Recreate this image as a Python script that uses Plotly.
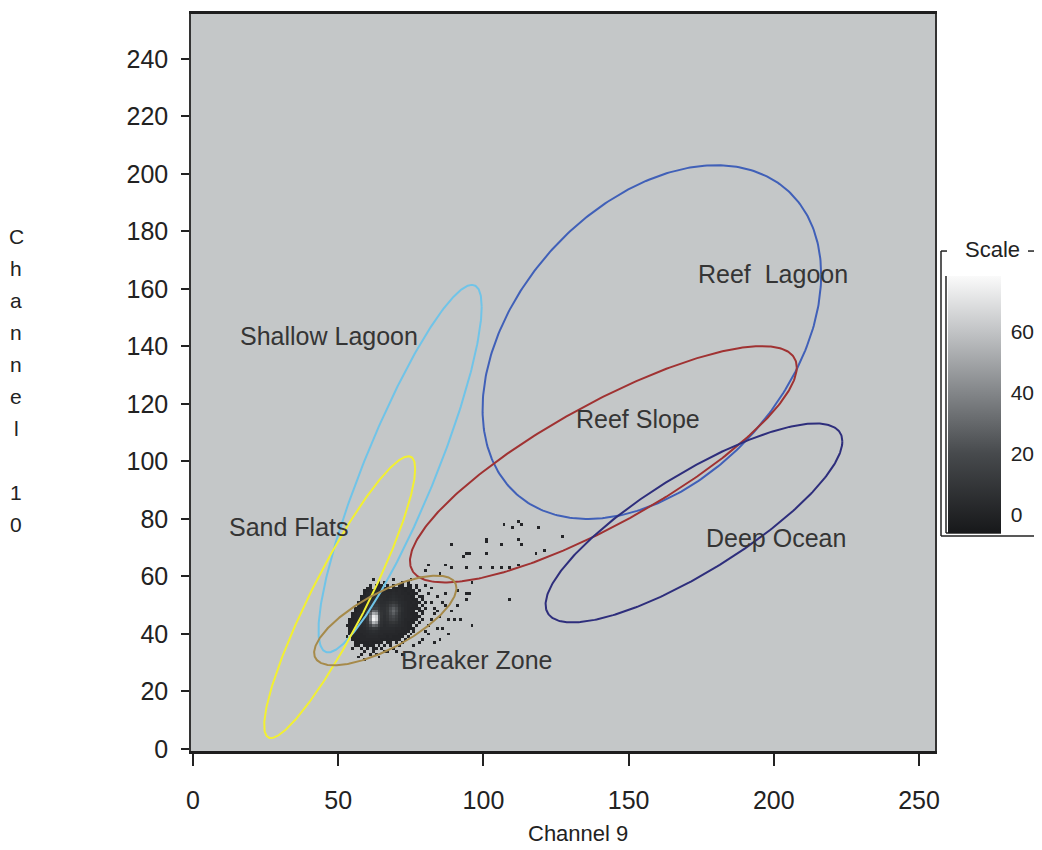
import numpy as np
import plotly.graph_objects as go

# ---------------- data ----------------
region_names = ["Reef\u00a0 Lagoon", "Shallow Lagoon", "Reef Slope", "Sand Flats", "Deep Ocean", "Breaker Zone"]
center_x = [158.0, 71.3, 141.3, 50.5, 172.5, 66.2]
center_y = [141.5, 97.5, 99.0, 52.8, 78.6, 44.7]
spread_x = [58.3, 28.1, 66.6, 26.0, 51.1, 24.5]
spread_y = [61.5, 63.9, 41.1, 49.0, 34.6, 15.6]
correlation = [0.38, 0.88, 0.82, 0.91, 0.82, 0.72]
label_x = [199.7, 46.8, 153.2, 33.1, 200.8, 97.5]
label_y = [165.2, 143.7, 114.6, 77.2, 73.4, 30.8]
region_colors = ["#4060b8", "#70c4e8", "#a03232", "#f2f032", "#2e2e7c", "#a68a4a"]

x_ticks = [0, 50, 100, 150, 200, 250]
y_ticks = list(range(0, 241, 20))
scale_ticks = [0, 20, 40, 60]

# pixel counts of the dense cluster (columns x = 52..81, rows y = 58 down to 33)
grid_x_start = 52
grid_y_start = 58
density_rows = [
    [0,0,0,0,0,0,0,0,0,0,0,0,1,0,1,0,0,0,0,0,1,0,1,0,0,0,0,0,0,0],
    [0,0,0,0,0,0,0,0,0,1,0,1,2,1,0,1,0,1,0,1,1,0,1,1,0,0,0,0,0,0],
    [0,0,0,0,0,0,0,0,1,2,0,2,3,2,2,1,0,2,1,2,1,1,2,1,0,1,0,0,0,0],
    [0,0,0,0,0,0,0,1,2,3,3,3,4,3,3,2,2,3,2,3,2,1,2,1,1,0,1,0,0,0],
    [0,0,0,0,0,0,0,1,3,4,4,5,4,4,3,3,3,4,3,3,2,2,1,2,1,1,0,0,0,0],
    [0,0,0,0,0,0,1,2,3,5,5,6,5,4,4,3,4,5,4,3,3,2,2,1,1,0,1,1,0,0],
    [0,0,0,0,0,0,1,2,4,5,6,7,6,5,4,4,5,6,5,4,3,2,2,2,1,1,0,1,0,0],
    [0,0,0,0,0,1,2,3,4,6,8,9,7,5,5,6,8,10,8,5,4,3,2,1,2,1,1,0,1,0],
    [0,0,0,0,0,1,2,4,5,8,11,12,9,6,6,8,14,18,14,7,4,3,2,2,1,1,0,1,0,0],
    [0,0,0,0,1,2,3,4,6,10,16,16,11,7,7,10,20,26,20,9,5,3,2,1,1,1,1,0,1,0],
    [0,0,0,0,1,2,3,5,8,16,30,28,14,8,7,11,22,30,22,10,5,3,2,2,1,0,1,1,0,0],
    [0,0,0,1,2,3,4,5,10,28,52,46,20,9,7,10,20,26,18,8,4,3,2,1,1,1,0,1,0,0],
    [0,0,0,1,2,3,4,6,12,38,72,64,24,9,6,9,16,20,14,7,4,3,2,2,1,1,1,0,0,0],
    [0,0,1,1,2,3,5,6,12,40,76,66,24,8,6,8,14,16,12,6,4,2,2,1,1,1,0,1,0,0],
    [0,0,1,2,2,3,4,6,10,30,56,48,18,7,5,6,9,10,8,5,3,2,1,2,1,0,1,0,0,0],
    [0,0,1,1,2,3,4,5,8,18,30,26,12,6,4,5,6,6,5,4,3,2,1,1,0,1,0,0,0,0],
    [0,0,1,2,2,3,3,4,6,9,12,11,7,4,4,4,4,4,3,3,2,2,1,1,1,0,0,0,0,0],
    [0,0,1,1,2,2,3,3,4,5,6,5,4,3,3,3,3,3,2,2,2,1,1,0,1,0,0,0,0,0],
    [0,0,1,1,2,2,2,3,3,4,4,4,3,3,2,2,2,2,2,1,1,1,0,1,0,0,0,0,0,0],
    [0,0,0,1,1,2,2,2,3,3,3,3,2,2,2,1,2,1,1,1,1,0,1,0,0,0,0,0,0,0],
    [0,0,0,1,1,1,2,2,2,2,2,2,2,1,1,1,1,1,1,1,0,1,0,0,0,0,0,0,0,0],
    [0,0,0,0,1,1,1,1,1,2,1,1,1,1,0,1,1,0,1,0,1,0,0,0,0,0,0,0,0,0],
    [0,0,0,0,1,1,0,1,1,1,1,0,1,0,1,0,1,0,0,1,0,0,0,0,0,0,0,0,0,0],
    [0,0,0,0,0,0,1,0,1,0,1,1,0,1,0,0,0,1,0,0,0,0,0,0,0,0,0,0,0,0],
    [0,0,0,0,0,0,0,1,0,0,1,0,0,0,1,1,0,0,0,0,0,0,0,0,0,0,0,0,0,0],
    [0,0,0,0,0,0,1,0,0,1,0,1,0,0,0,0,0,0,0,0,0,0,0,0,0,0,0,0,0,0],
]

# isolated single pixels
outlier_x = [107, 112, 113, 110, 101, 101, 106, 112, 119, 127, 89, 94, 101, 121, 118, 87, 93, 95,
             106, 109, 112, 103, 99, 96, 91, 94, 94, 109, 96, 92, 83, 94, 80, 81, 89, 85, 113,
             81, 83, 84, 87, 88, 90, 84, 86, 81, 78, 77, 87, 95,
             82, 83, 82, 81, 80, 79, 78, 76, 70, 72, 57, 55, 53, 53, 62, 69, 75, 82,
             80, 85, 86, 84, 89, 91, 85, 88, 59, 64]
outlier_y = [78, 79, 78, 77, 72, 73, 71, 73, 77, 74, 71, 68, 68, 69, 68, 64, 67, 68,
             63, 63, 64, 63, 63, 58, 55, 54, 52, 52, 43, 45, 37, 63, 62, 64, 63, 61, 71,
             54, 49, 48, 50, 45, 45, 42, 42, 40, 55, 57, 54, 54,
             51, 47, 45, 43, 41, 38, 37, 36, 34, 33, 32, 35, 39, 43, 59, 59, 59, 56,
             57, 46, 51, 53, 48, 50, 38, 40, 31, 32]

# ---------------- build heat grid ----------------
hx = list(range(45, 132))
hy = list(range(28, 84))
z = [[None for _ in hx] for _ in hy]
for r, row in enumerate(density_rows):
    yv = grid_y_start - r
    for c, v in enumerate(row):
        if v > 0:
            z[hy.index(yv)][hx.index(grid_x_start + c)] = v
for xv, yv in zip(outlier_x, outlier_y):
    if z[hy.index(yv)][hx.index(xv)] is None:
        z[hy.index(yv)][hx.index(xv)] = 1

zmin, zmax = -6, 78
def frac(v):
    return (v - zmin) / (zmax - zmin)
colorscale = [[0, "#17181a"], [frac(20), "#474a4d"], [frac(40), "#838689"],
              [frac(60), "#c2c4c6"], [1, "#fafafa"]]

# ---------------- layout geometry (screen pixels; page body has an 8px margin) ----------------
OFF = 8
W, H = 1042 - OFF, 850 - OFF
L, R, T, B = 191, 935, 11, 751          # plot area in screen pixels
pw, ph = R - L, B - T
def px(xp):
    return (xp - L) / pw
def py(yp):
    return (B - yp) / ph

fig = go.Figure()
fig.add_trace(go.Heatmap(
    x=hx, y=hy, z=z, zmin=zmin, zmax=zmax, colorscale=colorscale,
    zsmooth=False, hoverinfo="skip",
    colorbar=dict(
        x=px(948), xanchor="left", xpad=0,
        y=py(403.5), yanchor="middle", ypad=0,
        thickness=53, thicknessmode="pixels",
        len=257, lenmode="pixels",
        tickvals=scale_ticks, ticks="outside", ticklen=6, tickcolor="rgba(0,0,0,0)",
        tickfont=dict(family="Liberation Sans", size=21, color="#222"),
        outlinewidth=0,
    ),
))

t = np.linspace(0, 2 * np.pi, 361)
for name, cx, cy, sx, sy, rho, col in zip(region_names, center_x, center_y, spread_x,
                                          spread_y, correlation, region_colors):
    ex = cx + sx * np.cos(t)
    ey = cy + sy * (rho * np.cos(t) + np.sqrt(1 - rho ** 2) * np.sin(t))
    fig.add_trace(go.Scatter(x=ex, y=ey, mode="lines", line=dict(color=col, width=2),
                             hoverinfo="skip", showlegend=False))

annotations = []
for name, lx, ly in zip(region_names, label_x, label_y):
    annotations.append(dict(x=lx, y=ly, xref="x", yref="y", text=name, showarrow=False,
                            font=dict(family="Liberation Sans", size=25, color="#353535")))

annotations.append(dict(x=px(577.5), y=py(834), xref="paper", yref="paper", text="Channel 9",
                        showarrow=False, xanchor="center", yanchor="middle",
                        font=dict(family="Liberation Sans", size=22, color="#222")))
for i, ch in enumerate("Channel 10"):
    if ch.strip():
        annotations.append(dict(x=px(16), y=py(234 + i * 32.2), xref="paper", yref="paper",
                                text=ch, showarrow=False, xanchor="center", yanchor="middle",
                                font=dict(family="Liberation Sans", size=21, color="#222")))
annotations.append(dict(x=px(992), y=py(247), xref="paper", yref="paper", text="Scale",
                        showarrow=False, xanchor="center", yanchor="middle",
                        font=dict(family="Liberation Sans", size=22, color="#222")))

frame = dict(type="line", xref="paper", yref="paper", line=dict(color="#222", width=1.5))
shapes = [
    dict(frame, x0=px(941), x1=px(941), y0=py(249), y1=py(535)),
    dict(frame, x0=px(941), x1=px(947), y0=py(249), y1=py(249)),
    dict(frame, x0=px(941), x1=px(1042), y0=py(535), y1=py(535)),
    dict(frame, x0=px(1028), x1=px(1042), y0=py(249), y1=py(249)),
    dict(frame, x0=px(946), x1=px(946), y0=py(274), y1=py(532)),
    dict(frame, x0=px(946), x1=px(1001), y0=py(532), y1=py(532)),
]

tickfont = dict(family="Liberation Sans", size=25, color="#222")
fig.update_layout(
    width=W, height=H,
    margin=dict(l=L - OFF, r=W - (R - OFF), t=T - OFF, b=H - (B - OFF), pad=0),
    paper_bgcolor="white", plot_bgcolor="#c4c7c8",
    showlegend=False,
    annotations=annotations, shapes=shapes,
    xaxis=dict(range=[-0.7, 255.5], tickvals=x_ticks, ticks="outside", ticklen=12, tickwidth=2,
               tickcolor="#222", showline=True, linewidth=3, linecolor="#1e1e1e", mirror=True,
               showgrid=False, zeroline=False, tickfont=tickfont, ticklabelstandoff=13),
    yaxis=dict(range=[-0.7, 255.6], tickvals=y_ticks, ticks="outside", ticklen=8, tickwidth=2,
               tickcolor="#222", showline=True, linewidth=1.5, linecolor="#333", mirror=True,
               showgrid=False, zeroline=False, tickfont=tickfont, ticklabelstandoff=8),
)

fig.write_html("out.html")
